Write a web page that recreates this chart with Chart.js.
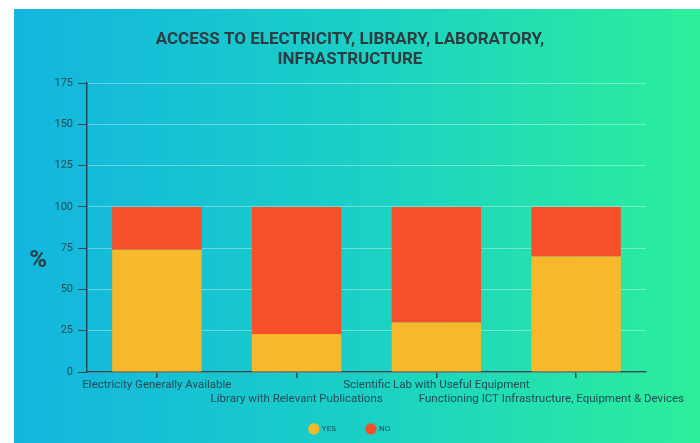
<!DOCTYPE html>
<html>
<head>
<meta charset="utf-8">
<script src="https://cdn.jsdelivr.net/npm/chart.js@4"></script>
<style>
	html, body { margin: 0; padding: 0; background: #ffffff; }
	#wrap { width: 700px; height: 443px; position: relative; }
</style>
</head>
<body>
<div id="wrap"><canvas id="j-canvas-access"></canvas></div>
<script>
var categories = [
	'Electricity Generally Available',
	'Library with Relevant Publications',
	'Scientific Lab with Useful Equipment',
	'Functioning ICT Infrastructure, Equipment & Devices'
];
var yesValues = [74, 23, 30, 70];
var noValues = [26, 77, 70, 30];
var yTicks = [0, 25, 50, 75, 100, 125, 150, 175];

var darkColor = '#244a55';

// gradient panel behind the chart
var bgPlugin = {
	id: 'bgPanel',
	beforeDraw: function(chart) {
		var ctx = chart.ctx;
		ctx.save();
		var grad = ctx.createLinearGradient(14, 0, 700, 0);
		grad.addColorStop(0, '#13b5df');
		grad.addColorStop(0.5, '#1ad0c6');
		grad.addColorStop(1, '#2cef9b');
		ctx.fillStyle = grad;
		ctx.fillRect(14, 9, 686, 434);
		ctx.restore();
	}
};

// staggered category labels + unrotated "%" axis title
var labelPlugin = {
	id: 'stagger',
	afterDraw: function(chart) {
		var ctx = chart.ctx;
		var xs = chart.scales.x;
		var area = chart.chartArea;
		ctx.save();
		ctx.font = '11.5px Roboto';
		ctx.fillStyle = darkColor;
		ctx.textBaseline = 'middle';
		ctx.textAlign = 'left';
		for (var i = 0; i < categories.length; i++) {
			var w = ctx.measureText(categories[i]).width;
			var x = xs.getPixelForValue(i) - w / 2;
			if (x + w > chart.width - 16) {
				x = chart.width - 16 - w;
			}
			var y = area.bottom + (i % 2 === 0 ? 13 : 27);
			ctx.fillText(categories[i], x, y);
		}
		ctx.font = 'bold 24px Roboto';
		ctx.fillStyle = '#2e3d42';
		ctx.textAlign = 'center';
		ctx.fillText('%', 38, 261);
		ctx.restore();
	}
};

var ctx = document.getElementById('j-canvas-access').getContext('2d');
window.myBar = new Chart(ctx, {
	type: 'bar',
	data: {
		labels: categories,
		datasets: [{
			label: 'YES',
			backgroundColor: '#f7b82b',
			borderWidth: 0,
			barPercentage: 0.8,
			data: yesValues
		}, {
			label: 'NO',
			backgroundColor: '#f5502a',
			borderWidth: 0,
			barPercentage: 0.8,
			data: noValues
		}]
	},
	options: {
		responsive: true,
		maintainAspectRatio: false,
		animation: false,
		layout: {
			padding: { left: 54, right: 54, top: 0, bottom: 0 }
		},
		plugins: {
			title: {
				display: true,
				text: ['ACCESS TO ELECTRICITY, LIBRARY, LABORATORY,', 'INFRASTRUCTURE'],
				color: '#2e3b40',
				font: { family: 'Roboto', size: 17, weight: 'bold', lineHeight: 1.18 },
				padding: { top: 30, bottom: 13 }
			},
			legend: {
				position: 'bottom',
				labels: {
					usePointStyle: true,
					pointStyle: 'circle',
					color: darkColor,
					font: { family: 'Roboto', size: 8 },
					padding: 31
				}
			},
			tooltip: { enabled: false }
		},
		scales: {
			x: {
				stacked: true,
				ticks: { display: false },
				grid: {
					offset: false,
					drawOnChartArea: false,
					tickLength: 6,
					tickColor: darkColor,
					lineWidth: 1.5
				},
				border: { color: darkColor, width: 1.5 },
				afterFit: function(scale) {
					scale.height = 22;
				}
			},
			y: {
				stacked: true,
				min: 0,
				max: 175,
				afterBuildTicks: function(scale) {
					scale.ticks = yTicks.map(function(v) { return { value: v }; });
				},
				ticks: {
					color: darkColor,
					font: { family: 'Roboto', size: 11 },
					padding: 5
				},
				grid: {
					color: 'rgba(255,255,255,0.35)',
					tickColor: darkColor,
					tickLength: 9,
					lineWidth: 1
				},
				border: { color: darkColor, width: 1.5 },
				afterFit: function(scale) {
					scale.width = 33;
				}
			}
		}
	},
	plugins: [bgPlugin, labelPlugin]
});
</script>
</body>
</html>
